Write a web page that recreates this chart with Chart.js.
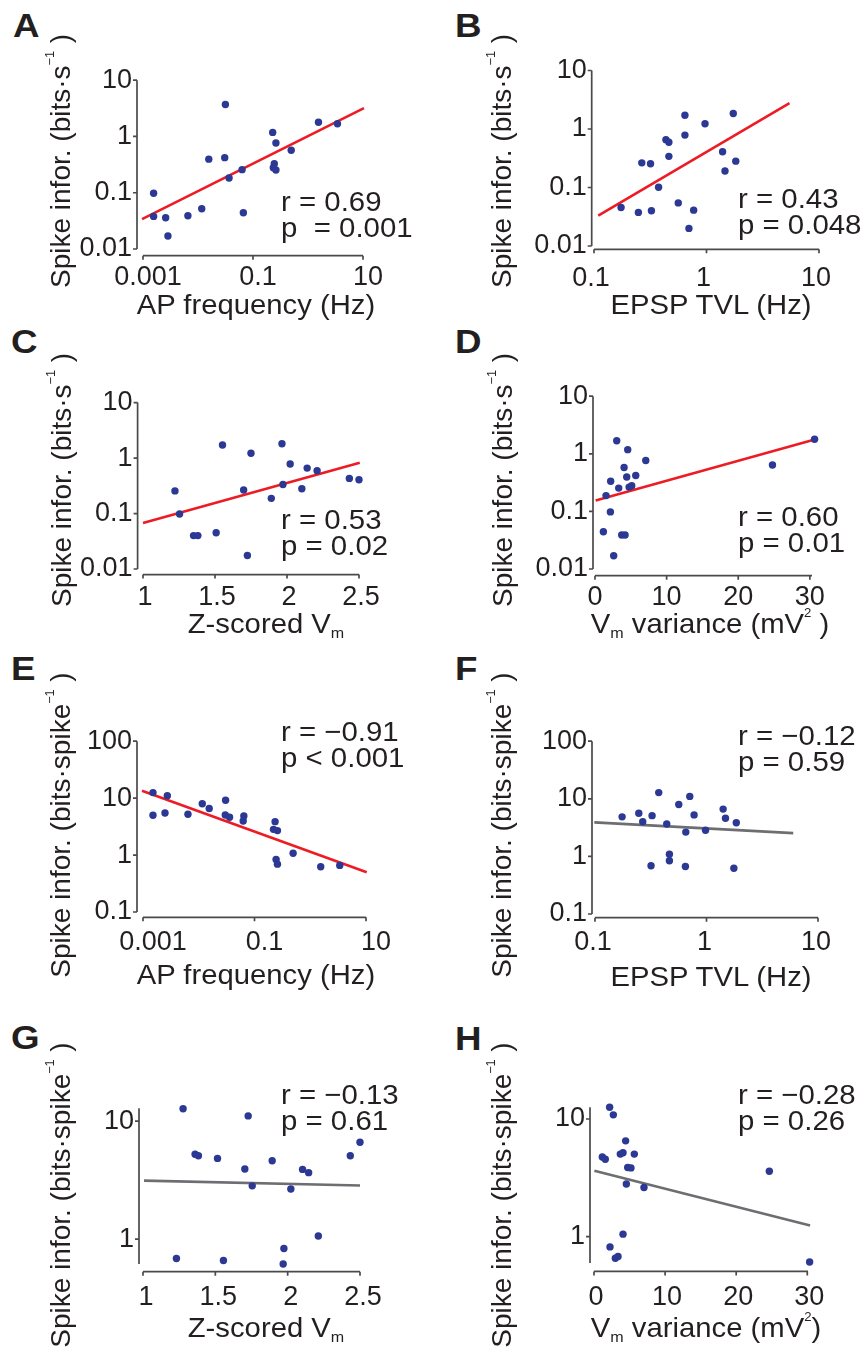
<!DOCTYPE html>
<html>
<head>
<meta charset="utf-8">
<script src="https://cdn.jsdelivr.net/npm/chart.js@4.4.1/dist/chart.umd.min.js"></script>
<style>
  body { margin: 0; background: #fff; }
  #fig { position: relative; width: 864px; height: 1353px; overflow: hidden;
         font-family: 'Liberation Sans', Arial, sans-serif; color: #231f20; }
  #fig canvas { position: absolute; }
  .lbl { position: absolute; font-weight: bold; font-size: 34px; line-height: 34px;
         transform-origin: 0 0; transform: scaleX(1.08); }
  .xt { position: absolute; font-size: 28px; line-height: 28px; white-space: nowrap;
        transform: translateX(-50%) scaleX(1.045); }
  .yt { position: absolute; font-size: 28px; line-height: 28px; white-space: nowrap;
        transform: translate(-50%, -50%) rotate(-90deg); }
  .st { position: absolute; font-size: 28px; line-height: 26px; white-space: pre;
        transform-origin: 0 0; transform: scaleX(1.05); }
  .sup { font-size: 0.45em; position: relative; top: -1.25em; line-height: 0; }
  .sub { font-size: 0.55em; position: relative; top: 0.3em; line-height: 0; }
</style>
</head>
<body>
<div id="fig">
  <!-- panel letters -->
  <div class="lbl" style="left:13px;top:8px">A</div>
  <div class="lbl" style="left:455px;top:8px">B</div>
  <div class="lbl" style="left:11px;top:324px">C</div>
  <div class="lbl" style="left:455px;top:324px">D</div>
  <div class="lbl" style="left:11px;top:651px">E</div>
  <div class="lbl" style="left:455px;top:651px">F</div>
  <div class="lbl" style="left:11px;top:1020px">G</div>
  <div class="lbl" style="left:455px;top:1021px">H</div>

  <!-- y titles -->
  <div class="yt" style="left:61px;top:161px">Spike infor. (bits·s<span class="sup">−1</span> )</div>
  <div class="yt" style="left:502px;top:161px">Spike infor. (bits·s<span class="sup">−1</span> )</div>
  <div class="yt" style="left:62px;top:480px">Spike infor. (bits·s<span class="sup">−1</span> )</div>
  <div class="yt" style="left:503px;top:480px">Spike infor. (bits·s<span class="sup">−1</span> )</div>
  <div class="yt" style="left:61px;top:825px">Spike infor. (bits·spike<span class="sup">−1</span> )</div>
  <div class="yt" style="left:502px;top:825px">Spike infor. (bits·spike<span class="sup">−1</span> )</div>
  <div class="yt" style="left:61px;top:1195px">Spike infor. (bits·spike<span class="sup">−1</span> )</div>
  <div class="yt" style="left:502px;top:1195px">Spike infor. (bits·spike<span class="sup">−1</span> )</div>

  <!-- x titles -->
  <div class="xt" style="left:256px;top:291px">AP frequency (Hz)</div>
  <div class="xt" style="left:711px;top:291px">EPSP TVL (Hz)</div>
  <div class="xt" style="left:266px;top:610px">Z-scored V<span class="sub">m</span></div>
  <div class="xt" style="left:710px;top:610px">V<span class="sub">m</span> variance (mV<span class="sup">2</span> )</div>
  <div class="xt" style="left:256px;top:961px">AP frequency (Hz)</div>
  <div class="xt" style="left:711px;top:963px">EPSP TVL (Hz)</div>
  <div class="xt" style="left:266px;top:1314px">Z-scored V<span class="sub">m</span></div>
  <div class="xt" style="left:706px;top:1314px">V<span class="sub">m</span> variance (mV<span class="sup">2</span>)</div>

  <!-- statistics -->
  <div class="st" style="left:281px;top:189px">r = 0.69
p  = 0.001</div>
  <div class="st" style="left:738px;top:186px">r = 0.43
p = 0.048</div>
  <div class="st" style="left:281px;top:507px">r = 0.53
p = 0.02</div>
  <div class="st" style="left:738px;top:504px">r = 0.60
p = 0.01</div>
  <div class="st" style="left:281px;top:719px">r = −0.91
p &lt; 0.001</div>
  <div class="st" style="left:738px;top:723px">r = −0.12
p = 0.59</div>
  <div class="st" style="left:281px;top:1082px">r = −0.13
p = 0.61</div>
  <div class="st" style="left:738px;top:1082px">r = −0.28
p = 0.26</div>
</div>

<script>
// data
const apFreqA   = [0.00156, 0.00156, 0.00258, 0.00284, 0.00655, 0.0117, 0.0157, 0.0306, 0.0315, 0.0367, 0.0633, 0.0668, 0.228, 0.261, 0.244, 0.234, 0.261, 0.495, 1.55, 3.43];
const infoRateA = [0.098, 0.038, 0.036, 0.017, 0.039, 0.052, 0.395, 0.42, 3.71, 0.183, 0.257, 0.044, 1.18, 0.767, 0.329, 0.278, 0.254, 0.569, 1.79, 1.68];
const fitA      = [[0.00096, 0.034], [10.4, 3.2]];

const tvlB      = [0.174, 0.248, 0.266, 0.318, 0.324, 0.375, 0.436, 0.463, 0.463, 0.561, 0.643, 0.643, 0.698, 0.769, 0.97, 1.39, 1.46, 1.73, 1.82];
const infoRateB = [0.0455, 0.0375, 0.264, 0.254, 0.040, 0.101, 0.658, 0.593, 0.341, 0.0545, 1.72, 0.787, 0.020, 0.041, 1.23, 0.408, 0.191, 1.84, 0.282];
const fitB      = [[0.109, 0.033], [5.47, 2.77]];

const zVmC      = [1.222, 1.254, 1.351, 1.381, 1.508, 1.552, 1.699, 1.725, 1.750, 1.891, 1.965, 1.972, 2.022, 2.103, 2.140, 2.209, 2.433, 2.50];
const infoRateC = [0.256, 0.098, 0.040, 0.040, 0.045, 1.72, 0.266, 0.0175, 1.22, 0.188, 1.81, 0.333, 0.784, 0.28, 0.659, 0.592, 0.43, 0.407];
const fitC      = [[1.0, 0.0675], [2.505, 0.826]];

const varD      = [1.17, 1.54, 2.15, 2.19, 2.61, 3.03, 3.31, 3.73, 4.2, 4.06, 4.43, 4.57, 4.76, 5.13, 5.69, 7.09, 24.78, 30.66];
const infoRateD = [0.0443, 0.188, 0.098, 0.333, 0.017, 1.68, 0.254, 0.039, 0.039, 0.577, 0.395, 1.18, 0.264, 0.278, 0.42, 0.767, 0.64, 1.79];
const fitD      = [[0.09, 0.1545], [30.56, 1.75]];

const apFreqE    = [0.00151, 0.00151, 0.00248, 0.00273, 0.0064, 0.01156, 0.0154, 0.0303, 0.0299, 0.0357, 0.0644, 0.0627, 0.234, 0.219, 0.258, 0.244, 0.258, 0.493, 1.54, 3.38];
const infoSpikeE = [12.5, 5.0, 5.47, 11.0, 5.2, 7.96, 6.56, 9.16, 5.06, 4.62, 4.87, 3.96, 3.86, 2.83, 2.69, 0.84, 0.693, 1.075, 0.625, 0.658];
const fitE       = [[0.00096, 13.5], [10.3, 0.50]];

const tvlF       = [0.175, 0.247, 0.268, 0.325, 0.318, 0.373, 0.440, 0.465, 0.465, 0.564, 0.652, 0.647, 0.708, 0.774, 0.98, 1.41, 1.48, 1.76, 1.85];
const infoSpikeF = [4.86, 5.6, 3.99, 5.1, 0.69, 12.8, 3.65, 1.09, 0.84, 7.94, 2.64, 0.666, 11.0, 5.25, 2.85, 6.62, 4.6, 0.624, 3.84];
const fitF       = [[0.0986, 3.89], [6.0, 2.54]];

const zVmG       = [1.231, 1.277, 1.360, 1.383, 1.515, 1.556, 1.704, 1.727, 1.755, 1.893, 1.974, 1.969, 2.022, 2.103, 2.145, 2.212, 2.433, 2.50];
const infoSpikeG = [0.686, 12.7, 5.24, 5.08, 4.83, 0.661, 3.93, 11.06, 2.83, 4.62, 0.834, 0.617, 2.66, 3.90, 3.66, 1.065, 5.08, 6.61];
const fitG       = [[1.007, 3.13], [2.5, 2.85]];

const varH       = [1.17, 1.59, 2.20, 2.25, 2.72, 3.0, 3.38, 3.70, 4.08, 4.08, 4.45, 4.55, 4.74, 5.20, 5.67, 7.03, 24.66, 30.33];
const infoSpikeH = [4.76, 4.55, 12.6, 0.818, 10.85, 0.656, 0.678, 5.03, 5.16, 1.05, 6.52, 2.80, 3.87, 3.84, 5.03, 2.62, 3.6, 0.608];
const fitH       = [[0.05, 3.63], [30.4, 1.246]];

// tick values and labels
const logTicksHz   = [0.001, 0.1, 10];
const logLabelsHz  = ['0.001', '0.1', '10'];
const tvlTicks     = [0.1, 1, 10];
const tvlLabels    = ['0.1', '1', '10'];
const zTicks       = [1, 1.5, 2, 2.5];
const zLabels      = ['1', '1.5', '2', '2.5'];
const varTicks     = [0, 10, 20, 30];
const varLabels    = ['0', '10', '20', '30'];
const rateTicks    = [0.01, 0.1, 1, 10];
const rateLabels   = ['0.01', '0.1', '1', '10'];
const spikeTicks   = [0.1, 1, 10, 100];
const spikeLabels  = ['0.1', '1', '10', '100'];
const shortTicks   = [1, 10];
const shortLabels  = ['1', '10'];

const FONT = "'Liberation Sans', Arial, sans-serif";
const INK = '#231f20';
const AXIS = '#4a4a4c';
const DOT = '#2b3894';
const RED = '#ed1c24';
const GREY = '#6d6e71';
const YW = 80, XH = 50, PT = 20, PR = 40;

// offset spines with outward ticks
const spines = {
    id: 'spines',
    beforeDatasetsDraw(chart, args, o) {
        const {ctx, chartArea, scales: {x, y}} = chart;
        ctx.save();
        ctx.strokeStyle = AXIS;
        ctx.lineWidth = 1.7;
        ctx.beginPath();
        const sx = chartArea.left - o.gapY;
        ctx.moveTo(sx, y.getPixelForValue(y.max));
        ctx.lineTo(sx, y.getPixelForValue(y.min));
        y.ticks.forEach(t => {
            const py = y.getPixelForValue(t.value);
            ctx.moveTo(sx - 4, py);
            ctx.lineTo(sx, py);
        });
        const sy = chartArea.bottom + o.gapX;
        ctx.moveTo(x.getPixelForValue(x.min), sy);
        ctx.lineTo(x.getPixelForValue(x.max), sy);
        x.ticks.forEach(t => {
            const px = x.getPixelForValue(t.value);
            ctx.moveTo(px, sy);
            ctx.lineTo(px, sy + 4);
        });
        ctx.stroke();
        ctx.restore();
    }
};

function axisOpts(a, pad, isX, shift) {
    return {
        type: a.type,
        min: a.min,
        max: a.max,
        bounds: 'data',
        grid: { display: false, drawTicks: false },
        border: { display: false },
        ticks: {
            autoSkip: false,
            maxRotation: 0,
            padding: pad,
            labelOffset: shift || 0,
            color: INK,
            font: { family: FONT, size: 27 },
            callback: (v, i) => a.labels[i]
        },
        afterBuildTicks: s => { s.ticks = a.ticks.map(v => ({ value: v })); },
        afterFit: s => { if (isX) s.height = XH; else s.width = YW; }
    };
}

function panel(p) {
    const [l, t, r, b] = p.area;
    const w = r - l + YW + PR, h = b - t + PT + XH;
    const cv = document.createElement('canvas');
    cv.width = w; cv.height = h;
    cv.style.left = (l - YW) + 'px';
    cv.style.top = (t - PT) + 'px';
    cv.style.width = w + 'px';
    cv.style.height = h + 'px';
    document.getElementById('fig').prepend(cv);

    new Chart(cv.getContext('2d'), {
        type: 'scatter',
        data: {
            datasets: [
                {
                    data: p.xs.map((x, i) => ({ x: x, y: p.ys[i] })),
                    pointRadius: 3.7,
                    pointBackgroundColor: DOT,
                    pointBorderWidth: 0,
                    clip: false,
                    order: 1
                },
                {
                    data: p.fit.map(d => ({ x: d[0], y: d[1] })),
                    showLine: true,
                    borderColor: p.lineColor,
                    borderWidth: 2.6,
                    pointRadius: 0,
                    clip: false,
                    order: 2
                }
            ]
        },
        options: {
            responsive: false,
            animation: false,
            events: [],
            layout: { padding: { top: PT, right: PR, left: 0, bottom: 0 } },
            plugins: {
                legend: { display: false },
                tooltip: { enabled: false },
                spines: { gapX: p.gapX, gapY: p.gapY }
            },
            scales: {
                x: axisOpts(p.x, p.xPad, true, p.xShift),
                y: axisOpts(p.y, p.gapY + 5, false, 0)
            }
        },
        plugins: [spines]
    });
}

const hzAxis    = { type: 'logarithmic', min: 0.001, max: 10, ticks: logTicksHz, labels: logLabelsHz };
const tvlAxis   = { type: 'logarithmic', min: 0.1, max: 10, ticks: tvlTicks, labels: tvlLabels };
const zAxis     = { type: 'linear', min: 1, max: 2.5, ticks: zTicks, labels: zLabels };
const varAxisD  = { type: 'linear', min: 0, max: 30.3, ticks: varTicks, labels: varLabels };
const varAxisH  = { type: 'linear', min: 0, max: 30.1, ticks: varTicks, labels: varLabels };
const rateAxis  = { type: 'logarithmic', min: 0.01, max: 10, ticks: rateTicks, labels: rateLabels };
const spikeAxis = { type: 'logarithmic', min: 0.1, max: 100, ticks: spikeTicks, labels: spikeLabels };

panel({ area: [143, 73, 363, 249],   xs: apFreqA, ys: infoRateA,  fit: fitA, lineColor: RED,  x: hzAxis,   y: rateAxis,  gapX: 6.7, gapY: 6,   xPad: 12, xShift: 5 });
panel({ area: [594, 67, 819, 246],   xs: tvlB,    ys: infoRateB,  fit: fitB, lineColor: RED,  x: tvlAxis,  y: rateAxis,  gapX: 3.3, gapY: 2.3, xPad: 16.3, xShift: -3 });
panel({ area: [143, 396, 359, 569],  xs: zVmC,    ys: infoRateC,  fit: fitC, lineColor: RED,  x: zAxis,    y: rateAxis,  gapX: 5.6, gapY: 5.4, xPad: 12.6, xShift: 2 });
panel({ area: [595, 393, 812, 569],  xs: varD,    ys: infoRateD,  fit: fitD, lineColor: RED,  x: varAxisD, y: rateAxis,  gapX: 6.7, gapY: 2,   xPad: 12, xShift: 0 });
panel({ area: [143, 734, 366, 912],  xs: apFreqE, ys: infoSpikeE, fit: fitE, lineColor: RED,  x: hzAxis,   y: spikeAxis, gapX: 5.3, gapY: 6,   xPad: 14.6, xShift: 10 });
panel({ area: [595, 737, 818, 914],  xs: tvlF,    ys: infoSpikeF, fit: fitF, lineColor: GREY, x: tvlAxis,  y: spikeAxis, gapX: 3.7, gapY: 3,   xPad: 12.3, xShift: -2 });
panel({ area: [143, 1103, 360, 1264], xs: zVmG,   ys: infoSpikeG, fit: fitG, lineColor: GREY, x: zAxis,
        y: { type: 'logarithmic', min: 0.617, max: 12.85, ticks: shortTicks, labels: shortLabels }, gapX: 7.7, gapY: 4, xPad: 17.3, xShift: 3 });
panel({ area: [594, 1102, 808, 1263], xs: varH,   ys: infoSpikeH, fit: fitH, lineColor: GREY, x: varAxisH,
        y: { type: 'logarithmic', min: 0.597, max: 12.6, ticks: shortTicks, labels: shortLabels }, gapX: 8.4, gapY: 4, xPad: 18, xShift: 2 });
</script>
</body>
</html>
